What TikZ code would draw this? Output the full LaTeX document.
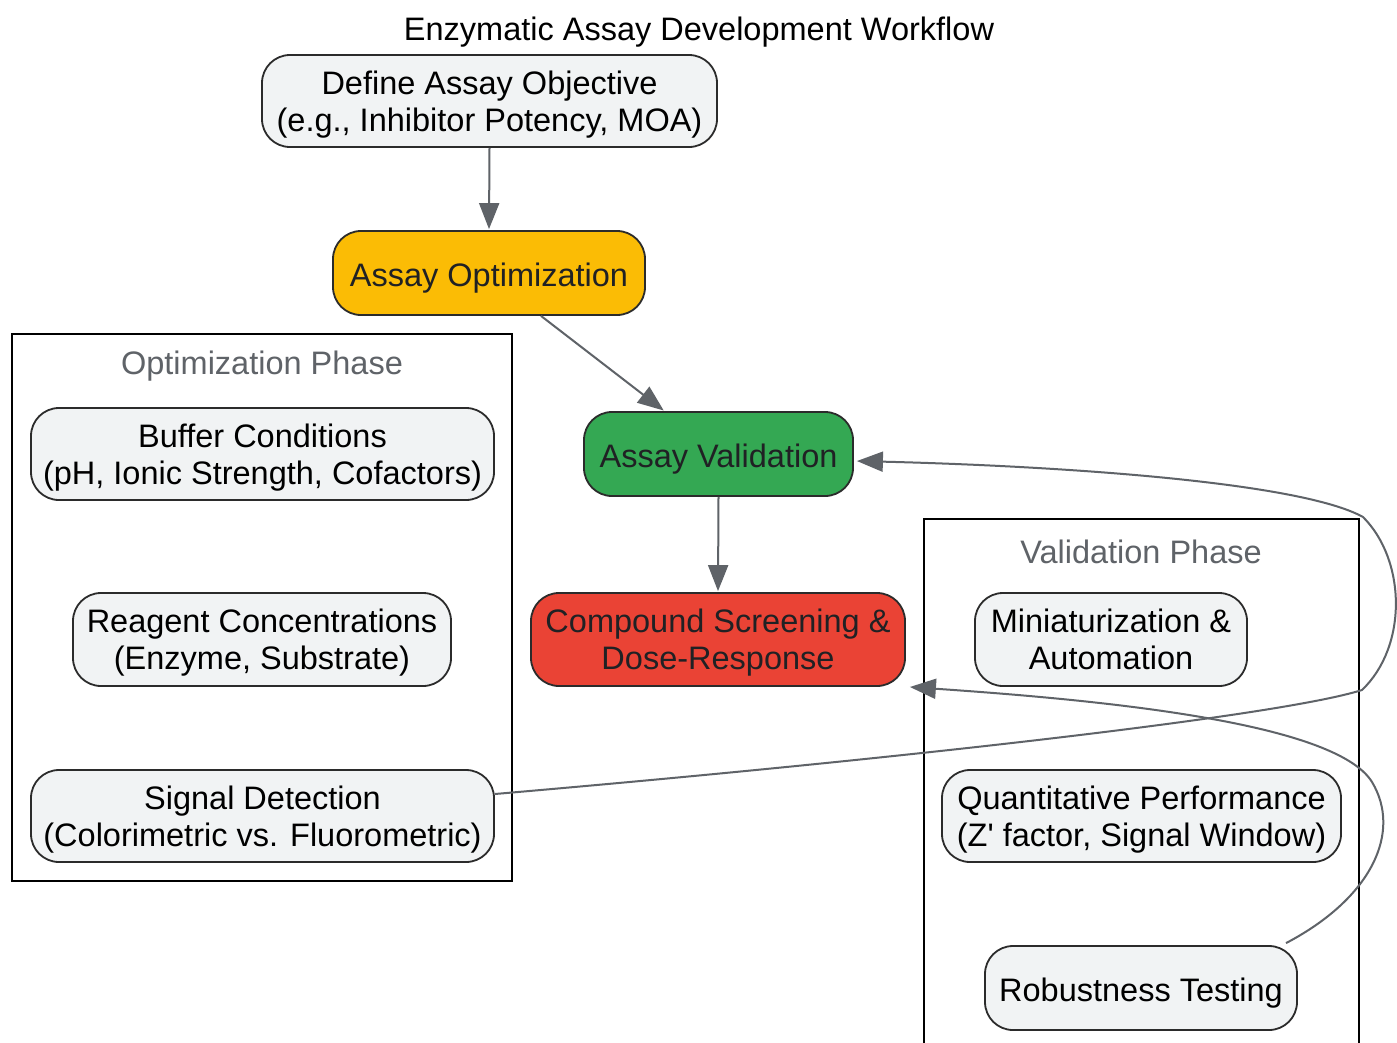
\documentclass[tikz,border=0pt]{standalone}
\usepackage{fontspec}
\setmainfont{Liberation Sans}[Ligatures=TeXOff]
\usetikzlibrary{arrows.meta}
\definecolor{edgegray}{HTML}{5F6368}
\definecolor{boxgray}{HTML}{F1F3F4}
\definecolor{gyellow}{HTML}{FBBC05}
\definecolor{ggreen}{HTML}{34A853}
\definecolor{gred}{HTML}{EA4335}
\definecolor{textdark}{HTML}{202124}
\definecolor{bordark}{HTML}{2B2B2B}
\newcommand{\twolines}[2]{\begin{tabular}{@{}c@{}}\rule{0pt}{35pt}#1\\#2\end{tabular}}
\tikzset{
  box/.style={rectangle, rounded corners=28pt, draw=bordark, line width=1.8pt,
    fill=boxgray, inner sep=0pt, text=black,
    font=\fontsize{32.5}{37}\selectfont},
  onebox/.style={box, execute at begin node={\rule{0pt}{33pt}}},
  conn/.style={draw=edgegray, line width=2pt, shorten >=1pt,
    -{Triangle[length=26pt,width=20pt]}},
  cluster/.style={draw=black, line width=2pt},
  clabel/.style={text=edgegray, font=\fontsize{32.5}{37}\selectfont, inner sep=0pt},
}
\begin{document}
\begin{tikzpicture}[x=1pt,y=-1pt]
\useasboundingbox (0,0) rectangle (1397,1042);
\fill[white] (0,0) rectangle (1397,1042);

% title
\node[inner sep=0pt, font=\fontsize{32.5}{37}\selectfont] (title) at (699,32) {Enzymatic Assay Development Workflow};

% clusters
\draw[cluster] (12,334) rectangle (512,881);
\node[clabel] (optlabel) at (262,366) {Optimization Phase};
\draw[cluster] (924,1045) -- (924,519) -- (1359,519) -- (1359,1045);
\node[clabel] (vallabel) at (1141,552) {Validation Phase};

% main nodes
\node[box, minimum width=455pt, minimum height=92pt] (def) at (489.5,101) {\twolines{Define Assay Objective}{(e.g., Inhibitor Potency, MOA)}};
\node[onebox, fill=gyellow, text=textdark, minimum width=312pt, minimum height=84pt] (opt) at (489,273) {Assay Optimization};
\node[onebox, fill=ggreen, text=textdark, minimum width=269pt, minimum height=84pt] (val) at (718.5,454) {Assay Validation};
\node[box, fill=gred, text=textdark, minimum width=374pt, minimum height=93pt] (comp) at (718,639.5) {\twolines{Compound Screening \&}{Dose-Response}};

% optimization phase nodes
\node[box, minimum width=463pt, minimum height=92pt] (buf) at (262.5,454) {\twolines{Buffer Conditions}{(pH, Ionic Strength, Cofactors)}};
\node[box, minimum width=378pt, minimum height=93pt] (rea) at (262,639.5) {\twolines{Reagent Concentrations}{(Enzyme, Substrate)}};
\node[box, minimum width=463pt, minimum height=92pt] (sig) at (262.5,816) {\twolines{Signal Detection}{(Colorimetric vs. Fluorometric)}};

% validation phase nodes
\node[box, minimum width=272pt, minimum height=93pt] (mini) at (1111,639.5) {\twolines{Miniaturization \&}{Automation}};
\node[box, minimum width=399pt, minimum height=92pt] (quant) at (1141.5,816) {\twolines{Quantitative Performance}{(Z' factor, Signal Window)}};
\node[onebox, minimum width=312pt, minimum height=84pt] (rob) at (1141,988) {Robustness Testing};

% edges
\draw[conn] (def.south) -- (opt.north);
\draw[conn] ([xshift=52pt]opt.south) -- ([xshift=-54pt]val.north);
\draw[conn] (val.south) -- (comp.north);

\draw[conn] ([yshift=22pt]sig.east) .. controls (900,759) and (1280,716) .. (1362,690)
  .. controls (1408,646) and (1406,560) .. (1363,517)
  .. controls (1300,482) and (1060,466) .. ([xshift=2pt,yshift=-7pt]val.east);

\draw[conn] ([xshift=145pt,yshift=2pt]rob.north) .. controls (1372,898) and (1402,832) .. (1372,782)
  .. controls (1335,722) and (1100,700) .. ([xshift=3pt]comp.south east);
\end{tikzpicture}
\end{document}
